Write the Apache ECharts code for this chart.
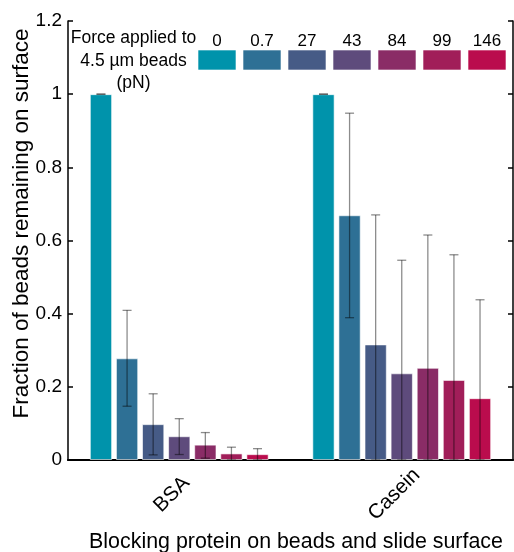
<!DOCTYPE html>
<html><head><meta charset="utf-8">
<script src="https://cdn.jsdelivr.net/npm/echarts@6/dist/echarts.min.js"></script>
<style>html,body{margin:0;padding:0;background:#fff}#c{width:514px;height:552px}</style>
</head><body><div id="c"></div>
<script>
var categories = ['BSA', 'Casein'];
var forces = ['0', '0.7', '27', '43', '84', '99', '146'];
var colors = ['#0093AB', '#2E7095', '#465B86', '#5E4B7C', '#8A2C66', '#A11E59', '#BA0C4D'];
var bsaMean   = [1.0, 0.278, 0.098, 0.065, 0.042, 0.018, 0.016];
var bsaLow    = [1.0, 0.147, 0.014, 0.015, 0.005, 0.0, 0.0];
var bsaHigh   = [1.0, 0.409, 0.181, 0.113, 0.075, 0.035, 0.031];
var caseinMean = [1.0, 0.669, 0.316, 0.237, 0.252, 0.219, 0.169];
var caseinLow  = [1.0, 0.389, 0.0, 0.0, 0.0, 0.0, 0.0];
var caseinHigh = [1.0, 0.948, 0.670, 0.546, 0.615, 0.561, 0.438];
var yTicks = ['0', '0.2', '0.4', '0.6', '0.8', '1', '1.2'];

var FONT = 'Liberation Sans, Arial, sans-serif';
var BAR_W = 22.3, GAP = 0.17;
var pitch = BAR_W * (1 + GAP);

var chart = echarts.init(document.getElementById('c'));
var series = [];
forces.forEach(function (f, i) {
  series.push({
    name: f, type: 'bar', barWidth: BAR_W, barGap: (GAP * 100) + '%',
    data: [bsaMean[i], caseinMean[i]],
    itemStyle: { color: colors[i], borderColor: 'rgba(255,255,255,0.6)', borderWidth: 1 },
    z: 2
  });
});
var errData = [];
forces.forEach(function (f, i) {
  errData.push([0, bsaLow[i], bsaHigh[i], i]);
  errData.push([1, caseinLow[i], caseinHigh[i], i]);
});
series.push({
  type: 'custom', z: 5, silent: true,
  data: errData,
  encode: { x: 0, y: [1, 2] },
  renderItem: function (params, api) {
    var cat = api.value(0), lo = api.value(1), hi = api.value(2), si = api.value(3);
    var off = (si - (forces.length - 1) / 2) * pitch;
    var pLo = api.coord([cat, lo]), pHi = api.coord([cat, hi]);
    var x = pLo[0] + off, hw = 4.5;
    var st = { stroke: 'rgba(0,0,0,0.45)', lineWidth: 1.3 };
    return { type: 'group', children: [
      { type: 'line', shape: { x1: x, y1: pLo[1], x2: x, y2: pHi[1] }, style: st },
      { type: 'line', shape: { x1: x - hw, y1: pHi[1], x2: x + hw, y2: pHi[1] }, style: st },
      { type: 'line', shape: { x1: x - hw, y1: pLo[1], x2: x + hw, y2: pLo[1] }, style: st }
    ]};
  }
});

var graphics = [{
  type: 'text', x: 133.5, y: 27,
  style: { text: 'Force applied to\n4.5 µm beads\n(pN)', font: '17.5px ' + FONT, fill: '#000', textAlign: 'center', textVerticalAlign: 'top', lineHeight: 22.5 }
}];
forces.forEach(function (f, i) {
  var cx = 217 + i * 45;
  graphics.push({ type: 'text', x: cx, y: 33, style: { text: f, font: '17px ' + FONT, fill: '#000', textAlign: 'center', textVerticalAlign: 'top' } });
  graphics.push({ type: 'rect', shape: { x: cx - 19, y: 50, width: 38, height: 20 }, style: { fill: colors[i], stroke: 'rgba(255,255,255,0.6)', lineWidth: 1 } });
});

chart.setOption({
  animation: false,
  textStyle: { fontFamily: FONT },
  grid: { left: 68, right: 1, top: 21, bottom: 92, containLabel: false, outerBoundsMode: 'none' },
  xAxis: [{
    type: 'category', data: categories, position: 'bottom',
    axisLine: { lineStyle: { color: '#000', width: 2 } },
    axisTick: { show: false },
    axisLabel: { rotate: 45, margin: 27, fontSize: 20.5, color: '#000', align: 'center', verticalAlign: 'middle', padding: [0, 21, 0, 0], fontFamily: FONT },
    name: 'Blocking protein on beads and slide surface', nameLocation: 'middle', nameGap: 71,
    nameTextStyle: { fontSize: 21.4, color: '#000', fontFamily: FONT, padding: [0, 0, 0, 11] }
  }, {
    type: 'category', data: categories, position: 'top',
    axisLine: { lineStyle: { color: '#000', width: 1.5 } },
    axisTick: { inside: true, alignWithLabel: true, length: 5, lineStyle: { color: '#000', width: 1.5 } },
    axisLabel: { show: false }
  }],
  yAxis: [{
    type: 'value', min: 0, max: 1.2, interval: 0.2, position: 'left',
    axisLine: { show: true, lineStyle: { color: '#000', width: 1.5 } },
    axisTick: { show: true, inside: true, length: 5, lineStyle: { color: '#000', width: 1.5 } },
    splitLine: { show: false },
    axisLabel: { fontSize: 19, color: '#000', margin: 6, fontFamily: FONT,
      formatter: function (v) { return yTicks[Math.round(v / 0.2)]; } },
    name: 'Fraction of beads remaining on surface', nameLocation: 'middle', nameGap: 35, nameMoveOverlap: false,
    nameTextStyle: { fontSize: 22.5, color: '#000', fontFamily: FONT, padding: [0, 0, 0, 34] }
  }, {
    type: 'value', min: 0, max: 1.2, interval: 0.2, position: 'right',
    axisLine: { show: true, lineStyle: { color: '#000', width: 1.5 } },
    axisTick: { show: true, inside: true, length: 5, lineStyle: { color: '#000', width: 1.5 } },
    splitLine: { show: false }, axisLabel: { show: false }
  }],
  graphic: graphics,
  series: series
});
</script></body></html>
